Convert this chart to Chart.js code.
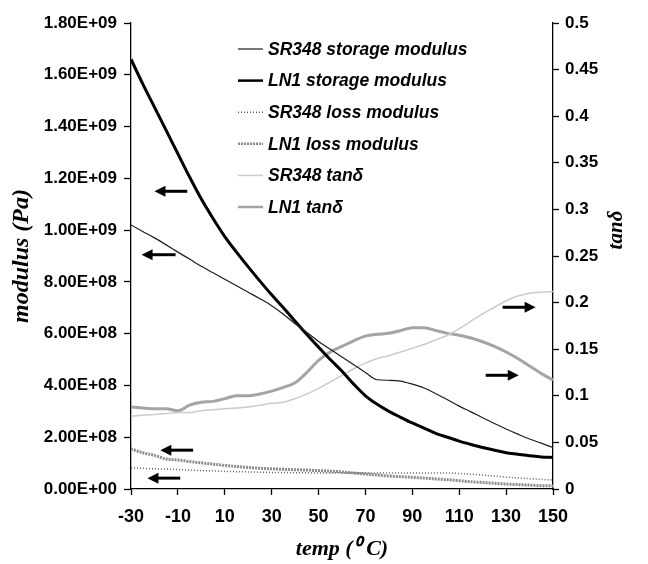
<!DOCTYPE html>
<html>
<head>
<meta charset="utf-8">
<script src="https://cdn.jsdelivr.net/npm/chart.js@4.4.0/dist/chart.umd.min.js"></script>
<style>
  html, body { margin: 0; padding: 0; background: #fff; }
  canvas { display: block; }
</style>
</head>
<body>
<canvas id="dma" width="648" height="564"></canvas>
<script>
// temperature grid (deg C)
var temps = [-30, -25, -20, -15, -10, -5, 0, 5, 10, 15, 20, 25, 30, 35, 40, 45, 50, 55, 60, 65,
             70, 75, 80, 85, 90, 95, 100, 105, 110, 115, 120, 125, 130, 135, 140, 145, 150];

// moduli in Pa (left axis)
var sr348Storage = [1.02e9, 0.995e9, 0.97e9, 0.943e9, 0.915e9, 0.888e9, 0.86e9, 0.835e9, 0.81e9, 0.785e9,
                    0.76e9, 0.735e9, 0.708e9, 0.675e9, 0.638e9, 0.605e9, 0.57e9, 0.54e9, 0.51e9, 0.48e9,
                    0.45e9, 0.422e9, 0.42e9, 0.417e9, 0.405e9, 0.39e9, 0.368e9, 0.345e9, 0.32e9, 0.298e9,
                    0.275e9, 0.253e9, 0.232e9, 0.212e9, 0.193e9, 0.177e9, 0.16e9];
var ln1Storage = [1.66e9, 1.565e9, 1.475e9, 1.385e9, 1.295e9, 1.205e9, 1.12e9, 1.045e9, 0.975e9, 0.915e9,
                  0.858e9, 0.803e9, 0.75e9, 0.70e9, 0.648e9, 0.597e9, 0.548e9, 0.50e9, 0.455e9, 0.405e9,
                  0.36e9, 0.327e9, 0.30e9, 0.277e9, 0.255e9, 0.235e9, 0.215e9, 0.20e9, 0.185e9, 0.172e9,
                  0.16e9, 0.15e9, 0.14e9, 0.134e9, 0.128e9, 0.124e9, 0.122e9];
var sr348Loss = [0.82e8, 0.80e8, 0.78e8, 0.77e8, 0.75e8, 0.73e8, 0.71e8, 0.70e8, 0.68e8, 0.67e8,
                 0.66e8, 0.65e8, 0.64e8, 0.635e8, 0.63e8, 0.625e8, 0.62e8, 0.62e8, 0.62e8, 0.62e8,
                 0.62e8, 0.62e8, 0.62e8, 0.62e8, 0.62e8, 0.62e8, 0.62e8, 0.62e8, 0.60e8, 0.57e8,
                 0.54e8, 0.50e8, 0.46e8, 0.43e8, 0.40e8, 0.37e8, 0.35e8];
var ln1Loss = [1.55e8, 1.40e8, 1.30e8, 1.16e8, 1.12e8, 1.06e8, 1.01e8, 0.96e8, 0.91e8, 0.87e8,
               0.83e8, 0.80e8, 0.78e8, 0.76e8, 0.745e8, 0.73e8, 0.71e8, 0.69e8, 0.66e8, 0.62e8,
               0.58e8, 0.54e8, 0.50e8, 0.475e8, 0.45e8, 0.42e8, 0.39e8, 0.36e8, 0.32e8, 0.28e8,
               0.25e8, 0.22e8, 0.19e8, 0.17e8, 0.15e8, 0.13e8, 0.12e8];

// tan delta (right axis)
var sr348Tan = [0.078, 0.079, 0.080, 0.081, 0.082, 0.082, 0.084, 0.085, 0.086, 0.087,
                0.088, 0.090, 0.092, 0.093, 0.097, 0.102, 0.108, 0.115, 0.122, 0.129,
                0.135, 0.140, 0.143, 0.147, 0.151, 0.155, 0.160, 0.165, 0.172, 0.180,
                0.188, 0.195, 0.202, 0.207, 0.210, 0.211, 0.212];
var ln1Tan = [0.088, 0.087, 0.086, 0.086, 0.084, 0.090, 0.093, 0.094, 0.097, 0.100,
              0.100, 0.102, 0.105, 0.109, 0.114, 0.125, 0.138, 0.147, 0.153, 0.159,
              0.164, 0.166, 0.167, 0.170, 0.173, 0.173, 0.170, 0.167, 0.165, 0.162,
              0.158, 0.153, 0.147, 0.140, 0.132, 0.124, 0.117];

var modulusTickLabels = ['0.00E+00', '2.00E+08', '4.00E+08', '6.00E+08', '8.00E+08',
                         '1.00E+09', '1.20E+09', '1.40E+09', '1.60E+09', '1.80E+09'];

// arrows pointing to the axis each curve belongs to: [tailT, headT, value, axis]
var arrows = [
  [-6, -20, 1.15e9, 'y'],
  [-11, -25.5, 9.05e8, 'y'],
  [-3.5, -17.5, 1.5e8, 'y'],
  [-9, -23, 4.2e7, 'y'],
  [128.5, 142.6, 0.195, 'y1'],
  [121.3, 135.4, 0.122, 'y1']
];

function pts(vals) {
  return temps.map(function (t, i) { return { x: t, y: vals[i] }; });
}

var datasets = [
  { label: 'SR348 storage modulus', data: pts(sr348Storage), yAxisID: 'y',
    borderColor: '#1e1e1e', borderWidth: 1.2 },
  { label: 'LN1 storage modulus', data: pts(ln1Storage), yAxisID: 'y',
    borderColor: '#000000', borderWidth: 3 },
  { label: 'SR348 loss modulus', data: pts(sr348Loss), yAxisID: 'y',
    borderColor: '#606060', borderWidth: 1.5, borderDash: [1, 2] },
  { label: 'LN1 loss modulus', data: pts(ln1Loss), yAxisID: 'y',
    borderColor: '#8c8c8c', borderWidth: 3, borderDash: [2, 1] },
  { label: 'SR348 tan\u03b4', data: pts(sr348Tan), yAxisID: 'y1',
    borderColor: '#cbcbcb', borderWidth: 1.5 },
  { label: 'LN1 tan\u03b4', data: pts(ln1Tan), yAxisID: 'y1',
    borderColor: '#a4a4a4', borderWidth: 3 }
];
datasets.forEach(function (d) {
  d.pointRadius = 0;
  d.fill = false;
  d.cubicInterpolationMode = 'monotone';
});

var extras = {
  id: 'extras',
  afterDatasetsDraw: function (chart) {
    var ctx = chart.ctx;
    var xs = chart.scales.x;
    ctx.save();
    // arrows
    ctx.strokeStyle = '#000';
    ctx.fillStyle = '#000';
    ctx.lineWidth = 3;
    arrows.forEach(function (a) {
      var ys = chart.scales[a[3]];
      var x0 = xs.getPixelForValue(a[0]);
      var x1 = xs.getPixelForValue(a[1]);
      var y = ys.getPixelForValue(a[2]);
      var dir = x1 > x0 ? 1 : -1;
      ctx.beginPath();
      ctx.moveTo(x0, y);
      ctx.lineTo(x1 - dir * 8, y);
      ctx.stroke();
      ctx.beginPath();
      ctx.moveTo(x1, y);
      ctx.lineTo(x1 - dir * 11, y - 5.5);
      ctx.lineTo(x1 - dir * 11, y + 5.5);
      ctx.closePath();
      ctx.fill();
    });

    // legend
    var lx = chart.chartArea.left + 107;
    var ly = chart.chartArea.top + 26;
    ctx.font = 'italic bold 17.5px "Liberation Sans", Arial, sans-serif';
    ctx.textBaseline = 'middle';
    ctx.textAlign = 'left';
    chart.data.datasets.forEach(function (d, i) {
      var y = ly + i * 31.6;
      ctx.strokeStyle = d.borderColor;
      ctx.lineWidth = Math.min(d.borderWidth, 2.5);
      ctx.setLineDash(d.borderDash || []);
      ctx.beginPath();
      ctx.moveTo(lx, y);
      ctx.lineTo(lx + 25, y);
      ctx.stroke();
      ctx.setLineDash([]);
      ctx.fillStyle = '#000';
      ctx.fillText(d.label, lx + 30, y + 1);
    });

    // right axis title
    ctx.translate(617, 230);
    ctx.rotate(-Math.PI / 2);
    ctx.textAlign = 'center';
    ctx.font = 'italic bold 21px "Liberation Serif", "Times New Roman", serif';
    ctx.fillText('tan\u03b4', 0, 0);
    ctx.restore();
  }
};

var ctx = document.getElementById('dma').getContext('2d');
var chart = new Chart(ctx, {
  type: 'line',
  data: { datasets: datasets },
  plugins: [extras],
  options: {
    responsive: false,
    animation: false,
    layout: { padding: { top: 23, left: 0, right: 0, bottom: 0 } },
    plugins: {
      legend: { display: false },
      tooltip: { enabled: false }
    },
    scales: {
      x: {
        type: 'linear',
        min: -30,
        max: 150,
        afterFit: function (s) { s.height = 75; },
        ticks: {
          stepSize: 20,
          padding: 11,
          color: '#000',
          font: { family: '"Liberation Sans", Arial, sans-serif', size: 18, weight: 'bold' }
        },
        grid: { drawOnChartArea: false, tickLength: 6, tickColor: '#000', tickWidth: 1.3 },
        border: { color: '#000', width: 1.3 },
        title: {
          display: true,
          text: 'temp (\u2070 C)',
          color: '#000',
          padding: { top: 0, bottom: 1 },
          font: { family: '"Liberation Serif", "Times New Roman", serif', size: 22, weight: 'bold', style: 'italic' }
        }
      },
      y: {
        type: 'linear',
        position: 'left',
        min: 0,
        max: 1.8e9,
        afterFit: function (s) { s.width = 131; },
        ticks: {
          stepSize: 2e8,
          padding: 7,
          color: '#000',
          font: { family: '"Liberation Sans", Arial, sans-serif', size: 17, weight: 'bold' },
          callback: function (v, i) { return modulusTickLabels[i]; }
        },
        grid: { drawOnChartArea: false, tickLength: 7, tickColor: '#000', tickWidth: 1.3 },
        border: { color: '#000', width: 1.3 },
        title: {
          display: true,
          text: 'modulus (Pa)',
          color: '#000',
          padding: { top: 7, bottom: 0 },
          font: { family: '"Liberation Serif", "Times New Roman", serif', size: 24, weight: 'bold', style: 'italic' }
        }
      },
      y1: {
        type: 'linear',
        position: 'right',
        min: 0,
        max: 0.5,
        afterFit: function (s) { s.width = 95; },
        ticks: {
          stepSize: 0.05,
          padding: 6,
          color: '#000',
          font: { family: '"Liberation Sans", Arial, sans-serif', size: 17, weight: 'bold' },
          callback: function (v) { return String(+v.toFixed(2)); }
        },
        grid: { drawOnChartArea: false, tickLength: 6, tickColor: '#000', tickWidth: 1.3 },
        border: { color: '#000', width: 1.3 }
      }
    }
  }
});
</script>
</body>
</html>
